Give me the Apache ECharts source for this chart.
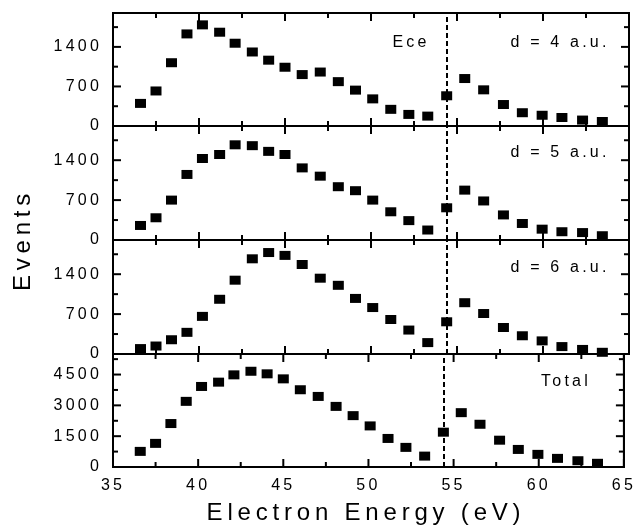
<!DOCTYPE html>
<html><head><meta charset="utf-8">
<script src="https://cdn.jsdelivr.net/npm/echarts@6/dist/echarts.min.js"></script>
<style>
html,body{margin:0;padding:0;background:#fff}
#main{width:639px;height:531px}
</style>
</head><body><div id="main"></div>
<script>
// ---- data ----
const energy = [36.6, 37.5, 38.4, 39.3, 40.2, 41.2, 42.1, 43.1, 44.05, 45.0, 46.0, 47.05, 48.1, 49.1, 50.1, 51.15, 52.2, 53.3, 54.4, 55.45, 56.55, 57.7, 58.8, 59.95, 61.1, 62.3, 63.45];
const d4 = [400, 620, 1120, 1630, 1790, 1660, 1465, 1310, 1165, 1040, 910, 955, 785, 635, 480, 295, 205, 175, 535, 840, 640, 380, 235, 190, 150, 105, 80];
const d5 = [255, 390, 700, 1150, 1430, 1500, 1670, 1655, 1555, 1500, 1265, 1120, 935, 865, 700, 495, 340, 175, 565, 875, 685, 440, 290, 190, 145, 130, 75];
const d6 = [95, 140, 250, 380, 660, 960, 1295, 1670, 1780, 1730, 1570, 1330, 1205, 975, 815, 605, 420, 200, 565, 900, 710, 465, 320, 230, 130, 80, 30];
const total = [760, 1150, 2115, 3195, 3920, 4130, 4485, 4660, 4535, 4290, 3760, 3435, 2950, 2500, 2000, 1390, 955, 530, 1695, 2645, 2080, 1305, 855, 615, 420, 305, 180];
const panelLabels = ['d = 4 a.u.', 'd = 5 a.u.', 'd = 6 a.u.', 'Total'];
const yMax = [2000, 2000, 2000, 5500];
const yStep = [700, 700, 700, 1500];
const xMin = 35, xMax = 65, xStep = 5;
const xMajorTicks = [35, 40, 45, 50, 55, 60, 65];
const xMinorTicks = [37.5, 42.5, 47.5, 52.5, 57.5, 62.5];
const yMajorTicks = [[0, 700, 1400], [0, 700, 1400], [0, 700, 1400], [0, 1500, 3000, 4500]];
const yMinorTicks = [[350, 1050, 1750], [350, 1050, 1750], [350, 1050, 1750], [750, 2250, 3750, 5250]];
const eceEnergy = 54.4;
const eceLabel = 'Ece';
const xTitle = 'Electron Energy (eV)';
const yTitle = 'Events';

// wide letter spacing like the original typesetting
(function () {
  const P = CanvasRenderingContext2D.prototype;
  const ft = P.fillText, mt = P.measureText;
  function setLS(ctx) {
    if (!('letterSpacing' in ctx)) return;
    const m = /(\d+(?:\.\d+)?)px/.exec(ctx.font);
    if (m) ctx.letterSpacing = (parseFloat(m[1]) * 0.2).toFixed(2) + 'px';
  }
  P.fillText = function () { setLS(this); return ft.apply(this, arguments); };
  P.measureText = function () { setLS(this); return mt.apply(this, arguments); };
})();

const FONT = '"Liberation Sans", Arial, sans-serif';
const tops = [13, 126, 240, 354];
const heights = [113, 114, 114, 113];
const seriesVals = [d4, d5, d6, total];
const MAJOR = 8, MINOR = 5;

function xa(i, pos) {
  return {type: 'value', gridIndex: i, position: pos, min: xMin, max: xMax, interval: xStep,
    axisLine: {show: true, onZero: false, lineStyle: {color: '#000', width: 2}},
    axisTick: {show: false},
    minorTick: {show: false},
    splitLine: {show: false},
    axisLabel: {show: pos === 'bottom', color: '#000', fontSize: 16, fontFamily: FONT, margin: 9,
      formatter: v => (i === 3 ? String(v) : '')}};
}
function ya(i, pos) {
  return {type: 'value', gridIndex: i, position: pos, min: 0, max: yMax[i], interval: yStep[i],
    axisLine: {show: true, onZero: false, lineStyle: {color: '#000', width: 2}},
    axisTick: {show: false},
    splitLine: {show: false},
    axisLabel: {show: pos === 'left', showMaxLabel: false, color: '#000', fontSize: 16, fontFamily: FONT, margin: 11,
      formatter: v => (v % yStep[i] === 0 ? String(v) : '')}};
}

// tick marks drawn through the axes' own scales (api.coord)
function tickSeries(i) {
  const items = [];
  xMajorTicks.forEach(v => items.push([v, 0, MAJOR], [v, 1, MAJOR]));
  xMinorTicks.forEach(v => items.push([v, 0, MINOR], [v, 1, MINOR]));
  yMajorTicks[i].forEach(v => items.push([v, 2, MAJOR], [v, 3, MAJOR]));
  yMinorTicks[i].forEach(v => items.push([v, 2, MINOR], [v, 3, MINOR]));
  return {
    type: 'custom', xAxisIndex: 2 * i, yAxisIndex: 2 * i, silent: true, clip: false, animation: false, z: 5,
    data: items,
    renderItem: (params, api) => {
      const v = api.value(0), kind = api.value(1), len = api.value(2);
      let p, dx = 0, dy = 0;
      if (kind === 0) { p = api.coord([v, 0]); dy = -len; }
      else if (kind === 1) { p = api.coord([v, yMax[i]]); dy = len; }
      else if (kind === 2) { p = api.coord([xMin, v]); dx = len; }
      else { p = api.coord([xMax, v]); dx = -len; }
      return {type: 'line', shape: {x1: p[0], y1: p[1], x2: p[0] + dx, y2: p[1] + dy},
        style: {stroke: '#000', lineWidth: 2}};
    }
  };
}

const grids = [], xAxis = [], yAxis = [], series = [];
for (let i = 0; i < 4; i++) {
  grids.push({left: 113, right: 10, top: tops[i], height: heights[i],
    show: true, borderColor: '#000', borderWidth: 2, backgroundColor: 'transparent'});
  xAxis.push(xa(i, 'bottom'), xa(i, 'top'));
  yAxis.push(ya(i, 'left'), ya(i, 'right'));
  series.push({
    type: 'scatter', xAxisIndex: 2 * i, yAxisIndex: 2 * i,
    symbol: 'rect', symbolSize: [11, 9],
    itemStyle: {color: '#000', opacity: 1},
    data: energy.map((e, k) => [e, seriesVals[i][k]]),
    markLine: {silent: true, symbol: 'none', label: {show: false},
      lineStyle: {color: '#000', width: 2, type: [5, 3], opacity: 1},
      data: [{xAxis: eceEnergy}]},
    animation: false
  });
  series.push(tickSeries(i));
}

const labelYs = [43, 153, 268, 382];
const graphics = [];
labelYs.forEach((y, i) => {
  graphics.push({type: 'text', x: i === 3 ? 566 : 560, y: y,
    style: {text: panelLabels[i], font: '16px ' + FONT, fill: '#000', textAlign: 'center', textVerticalAlign: 'middle'}});
});
graphics.push({type: 'text', x: 411, y: 43,
  style: {text: eceLabel, font: '16px ' + FONT, fill: '#000', textAlign: 'center', textVerticalAlign: 'middle'}});
graphics.push({type: 'text', x: 366, y: 513,
  style: {text: xTitle, font: '24px ' + FONT, fill: '#000', textAlign: 'center', textVerticalAlign: 'middle'}});
graphics.push({type: 'text', x: 23, y: 240, rotation: Math.PI / 2,
  style: {text: yTitle, font: '24px ' + FONT, fill: '#000', textAlign: 'center', textVerticalAlign: 'middle'}});

const chart = echarts.init(document.getElementById('main'));
chart.setOption({
  animation: false,
  grid: grids, xAxis: xAxis, yAxis: yAxis, series: series,
  graphic: graphics
});
</script>
</body></html>
